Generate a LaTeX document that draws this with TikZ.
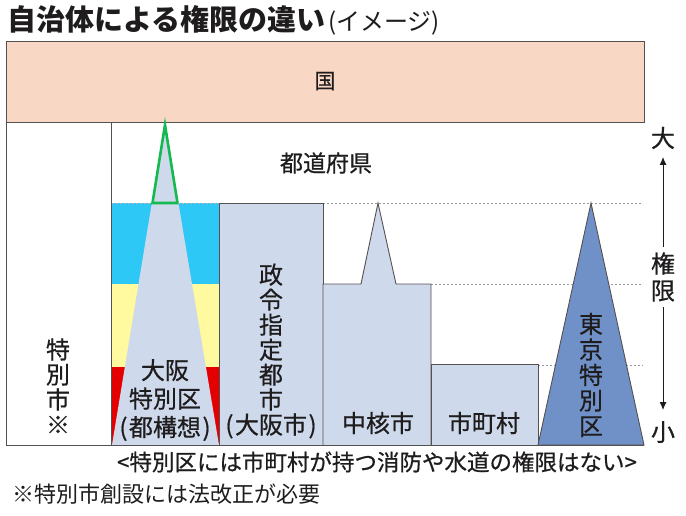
\documentclass[tikz,border=0pt]{standalone}
\usepackage{fontspec}
\newfontfamily\jp{Noto Sans CJK JP}
\newfontfamily\jpm{Noto Sans CJK JP}[FakeBold=0.6]
\usetikzlibrary{arrows.meta}
\definecolor{edge}{RGB}{85,80,80}
\definecolor{ink}{RGB}{30,28,28}
\definecolor{peach}{RGB}{249,215,197}
\definecolor{pale}{RGB}{206,217,235}
\definecolor{cyanband}{RGB}{45,200,245}
\definecolor{yellowband}{RGB}{255,250,160}
\definecolor{redband}{RGB}{228,0,0}
\definecolor{greenline}{RGB}{20,185,80}
\definecolor{tokyo}{RGB}{112,145,200}
\tikzset{
  frame/.style={draw=edge, line width=0.9pt},
  guide/.style={draw=gray!80, dash pattern=on 2pt off 2pt, line width=0.8pt},
  lbl/.style={text=ink, font=\jpm\fontsize{24}{25}\selectfont, align=center, inner sep=0pt},
  sidelbl/.style={text=ink, font=\jpm\fontsize{24}{27}\selectfont, align=center, inner xsep=0pt, inner ysep=5pt},
  powerarrow/.style={draw=ink, line width=0.9pt, -{Latex[length=8pt,width=7pt]}},
}
\begin{document}
\begin{tikzpicture}[x=1pt,y=-1pt]
\useasboundingbox[fill=white] (0,0) rectangle (686,516);

% title
\node[anchor=base west, inner sep=0pt, text=ink] (title) at (7,31)
  {\jp\fontsize{29}{30}\selectfont\bfseries 自治体による権限の違い\hspace{3pt}{\mdseries\fontsize{24}{26}\selectfont(イメージ)}};

% country box
\path[fill=peach, frame] (6,41) rectangle (644,122);
\node[lbl, font=\jpm\fontsize{21}{22}\selectfont] (kuni) at (325,81) {国};

% outer frame of lower part
\draw[frame] (6,122) -- (6,445) -- (644,445);
\draw[frame] (111.5,122) -- (111.5,445);

% guide lines
\draw[guide] (323,203) -- (643,203);
\draw[guide] (431,284) -- (643,284);
\draw[guide] (538,365) -- (643,365);

% Osaka special wards column
\fill[cyanband] (112,203) rectangle (219,284);
\fill[yellowband] (112,284) rectangle (219,367);
\fill[redband] (112,367) rectangle (219,445);
\fill[pale] (165,123) -- (112,445) -- (219,445) -- cycle;
\draw[greenline, line width=2.6pt, line join=miter] (165,125) -- (152.5,203) -- (177.5,203) -- cycle;
\draw[guide, draw=gray!60] (112,203) -- (152,203);
\draw[guide, draw=gray!60] (178,203) -- (219,203);

% designated city
\path[fill=pale, frame] (219,445) -- (219,203) -- (323,203) -- (323,445);
% core city
\path[fill=pale, frame] (323,445) -- (323,284) -- (361,284) -- (378,203) -- (396,284) -- (431,284) -- (431,445);
% municipalities
\path[fill=pale, frame] (431,445) -- (431,364) -- (538,364) -- (538,445);
% Tokyo special wards
\path[fill=tokyo, frame] (538,445) -- (591,203) -- (644,445) -- cycle;
\draw[frame] (6,445) -- (644,445);

% labels
\node[lbl, font=\jpm\fontsize{23}{24}\selectfont] (pref) at (326,163) {都道府県};
\node[lbl] (tokubetsushi) at (58,386) {特\\別\\市\\※};
\node[lbl, font=\jpm\fontsize{24}{28.5}\selectfont] (osaka) at (165,400) {大阪\\特別区\\(\hspace{1.5pt}都構想\hspace{1.5pt})};
\node[lbl] (seirei) at (271,351) {政\\令\\指\\定\\都\\市\\(\hspace{1.5pt}大阪市\hspace{1.5pt})};
\node[lbl] (chukaku) at (378,423) {中核市};
\node[lbl] (shichoson) at (484,423) {市町村};
\node[lbl, font=\jpm\fontsize{24}{25.5}\selectfont] (tokyolbl) at (591,375) {東\\京\\特\\別\\区};

% power scale
\node[lbl] (dai) at (663,138) {大};
\node[lbl] (sho) at (663,432) {小};
\node[sidelbl] (ken) at (663,277) {権\\限};
\coordinate (uptip) at (663,157);
\coordinate (downtip) at (663,410);
\draw[powerarrow] (ken.north) -- (uptip);
\draw[powerarrow] (ken.south) -- (downtip);

% captions
\node[lbl, font=\jpm\fontsize{22.5}{24}\selectfont] (caption) at (377,462) {<特別区には市町村が持つ消防や水道の権限はない>};
\node[lbl, anchor=west, font=\jp\fontsize{22}{24}\selectfont] (note) at (12,494) {※特別市創設には法改正が必要};
\end{tikzpicture}
\end{document}
